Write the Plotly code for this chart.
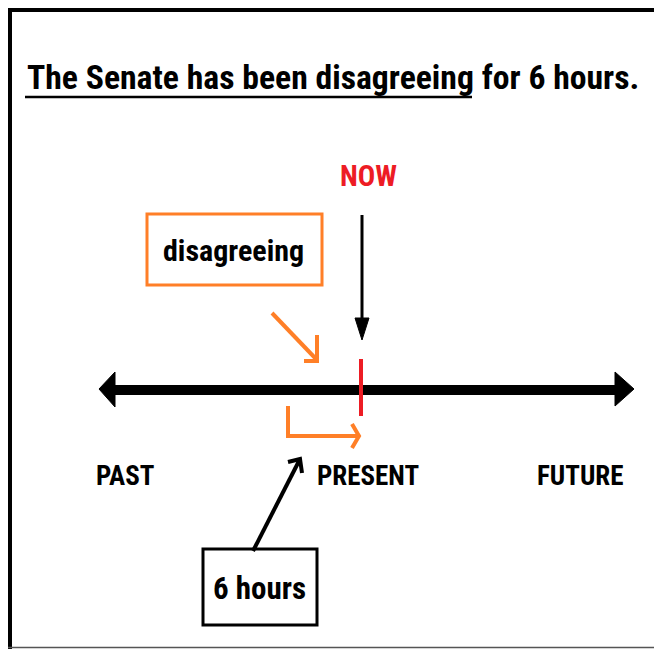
import plotly.graph_objects as go

# ---- content ----
title_main = "The Senate has been disagreeing"
title_rest = " for 6 hours."
now_label = "NOW"
verb_label = "disagreeing"
duration_label = "6 hours"
timeline_labels = ["PAST", "PRESENT", "FUTURE"]

W, H = 662, 649
OFF = 8  # page body margin
FONT = "Liberation Sans Narrow, Roboto Condensed, Roboto, Liberation Sans, sans-serif"
ORANGE = "#FF7F27"
RED = "#ED1C24"

fig = go.Figure()
fig.add_trace(go.Scatter(x=[OFF, W], y=[OFF, H], mode="markers", marker=dict(opacity=0),
                         hoverinfo="skip", showlegend=False))

shapes = []
def line(x0, y0, x1, y1, color="black", width=3):
    shapes.append(dict(type="line", x0=x0, y0=y0, x1=x1, y1=y1, xref="x", yref="y",
                       line=dict(color=color, width=width)))
def path(d, color="black", width=3, fill=None):
    s = dict(type="path", path=d, xref="x", yref="y", line=dict(color=color, width=width))
    if fill:
        s["fillcolor"] = fill
    shapes.append(s)
def rect(x0, y0, x1, y1, color="black", width=3, fill=None):
    s = dict(type="rect", x0=x0, y0=y0, x1=x1, y1=y1, xref="x", yref="y",
             line=dict(color=color, width=width))
    if fill:
        s["fillcolor"] = fill
    shapes.append(s)

# frame
rect(8, 5, W, 12, color="black", width=0, fill="black")
rect(8, 5, 12, H, color="black", width=0, fill="black")
line(8, 647.5, W, 647.5, color="#555555", width=1.5)

# title underline
line(25, 97, 472, 97, width=2.5)

# main timeline with arrowheads
line(112, 390, 617, 390, width=10)
path("M 99 389 L 115 372 L 115 407 Z", fill="black", width=1)
path("M 634 389 L 615 372 L 615 406 Z", fill="black", width=1)

# NOW arrow
line(362, 215, 362, 322, width=3)
path("M 355 318 L 369 318 L 362 340 Z", fill="black", width=1)

# red present tick
line(361, 359, 361, 416, color=RED, width=4)

# orange diagonal arrow
line(272, 313, 317, 360, color=ORANGE, width=4)
path("M 317 335 L 317 361 L 304 361", color=ORANGE, width=4)

# orange L arrow
path("M 288 406 L 288 436 L 358 436", color=ORANGE, width=4)
path("M 352 424 L 359 436 L 352 448", color=ORANGE, width=4)

# black arrow to PRESENT
line(253, 551, 299, 461, width=4)
path("M 288 462 L 300 459 L 302 473", width=4)

# boxes
rect(147, 214, 322, 285, color=ORANGE, width=3)
rect(203, 549, 317, 625, color="black", width=3)

annotations = [
    dict(x=25, y=77, text="<b>" + title_main + title_rest + "</b>", xanchor="left",
         font=dict(size=33.7, color="black", family=FONT)),
    dict(x=368, y=176, text="<b>" + now_label + "</b>", font=dict(size=29, color=RED, family=FONT)),
    dict(x=233, y=250, text="<b>" + verb_label + "</b>", font=dict(size=30, color="black", family=FONT)),
    dict(x=259, y=588, text="<b>" + duration_label + "</b>", font=dict(size=31, color="black", family=FONT)),
]
label_x = [125, 368, 580]
for lx, lab in zip(label_x, timeline_labels):
    annotations.append(dict(x=lx, y=476, text="<b>" + lab + "</b>",
                            font=dict(size=27, color="black", family=FONT)))
for a in annotations:
    a.update(xref="x", yref="y", showarrow=False, yanchor="middle")
    a.setdefault("xanchor", "center")

fig.update_layout(
    width=W - OFF, height=H - OFF, margin=dict(l=0, r=0, t=0, b=0),
    paper_bgcolor="white", plot_bgcolor="white",
    xaxis=dict(range=[OFF, W], visible=False, fixedrange=True),
    yaxis=dict(range=[H, OFF], visible=False, fixedrange=True),
    shapes=shapes, annotations=annotations, showlegend=False,
)
fig.write_html("out.html", config={"displayModeBar": False})
